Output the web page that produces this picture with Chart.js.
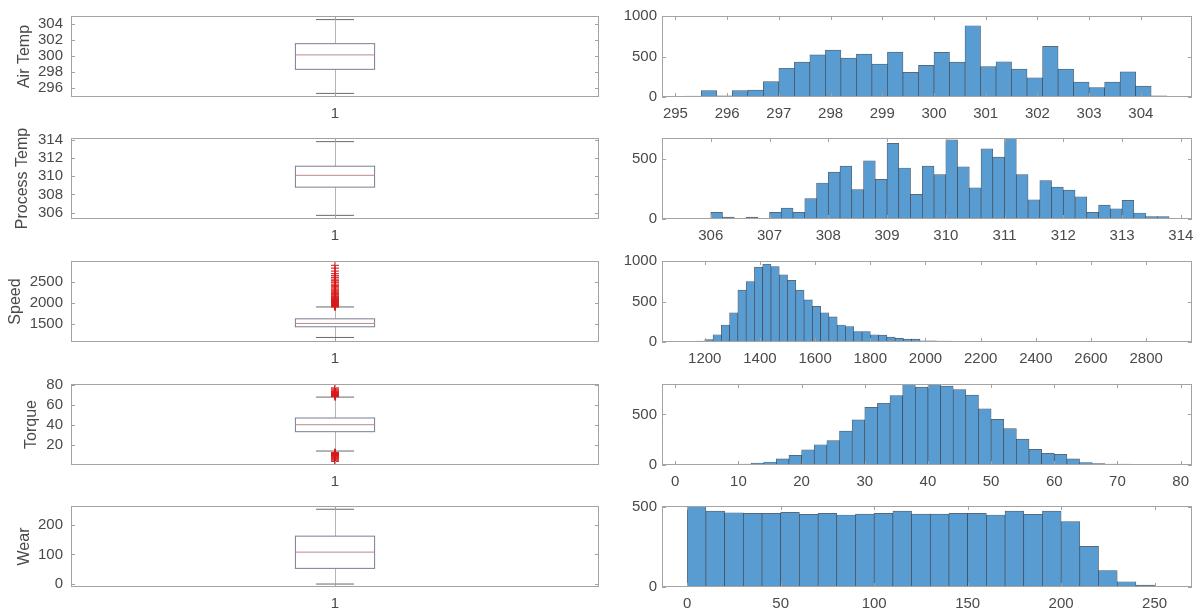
<!DOCTYPE html>
<html>
<head>
<meta charset="utf-8">
<script src="https://cdn.jsdelivr.net/npm/chart.js@4.4.0/dist/chart.umd.min.js"></script>
<style>
html, body { margin: 0; padding: 0; background: #fff; }
#wrap { position: relative; width: 1195px; height: 614px; overflow: hidden; }
#wrap canvas { position: absolute; }
</style>
</head>
<body>
<div id="wrap"></div>
<script>
// variable names (y titles of the box plots)
var names = ['Air Temp', 'Process Temp', 'Speed', 'Torque', 'Wear'];

// box plot stats: lower whisker, q1, median, q3, upper whisker
var airBox = [295.3, 298.3, 300.1, 301.5, 304.5];
var procBox = [305.7, 308.8, 310.1, 311.1, 313.8];
var speedBox = [1168, 1423, 1503, 1612, 1895];
var torqueBox = [14, 33.2, 40.1, 46.8, 67.5];
var wearBox = [0, 53, 108, 162, 253];

// outliers (red +)
var airOut = [];
var procOut = [];
var speedOut = [1898, 1905, 1912, 1920, 1928, 1935, 1943, 1950, 1958, 1967, 1975, 1984, 1992, 2001, 2010,
    2020, 2030, 2041, 2052, 2064, 2076, 2090, 2105, 2120, 2137, 2155, 2175, 2196, 2220, 2245, 2270,
    2295, 2320, 2350, 2380, 2410, 2440, 2480, 2520, 2560, 2600, 2640, 2690, 2750, 2820, 2886];
var torqueOut = [67.9, 68.4, 68.9, 69.3, 69.8, 70.2, 70.7, 71.1, 71.6, 72.1, 72.8, 73.5, 74.5, 75.4, 76.6,
    3.8, 4.2, 5.6, 6.8, 7.5, 8.2, 8.9, 9.3, 9.7, 10.1, 10.5, 10.9, 11.3, 11.7, 12.1, 12.5];
var wearOut = [];

// box plot y limits and ticks
var airBoxLim = [294.85, 304.95], airBoxTicks = [296, 298, 300, 302, 304];
var procBoxLim = [305.3, 314.2], procBoxTicks = [306, 308, 310, 312, 314];
var speedBoxLim = [1060, 2990], speedBoxTicks = [1500, 2000, 2500];
var torqueBoxLim = [0.16, 80.5], torqueBoxTicks = [20, 40, 60, 80];
var wearBoxLim = [-10, 264], wearBoxTicks = [0, 100, 200];

// histograms: first bin edge, bin width, counts
var airStart = 295.2, airWidth = 0.3;
var airCounts = [10, 80, 15, 80, 85, 190, 355, 430, 520, 580, 480, 530, 405, 555, 305, 390, 550, 430,
    880, 375, 435, 345, 237, 625, 345, 185, 115, 185, 310, 135, 15];
var procStart = 305.8, procWidth = 0.2;
var procCounts = [5, 55, 15, 5, 15, 3, 55, 90, 55, 170, 300, 390, 440, 245, 485, 330, 630, 425, 205, 440,
    370, 660, 435, 260, 585, 515, 675, 370, 160, 320, 265, 240, 185, 55, 115, 85, 155, 50, 20, 20];
var speedStart = 1170, speedWidth = 30;
var speedCounts = [10, 30, 90, 210, 360, 640, 745, 925, 960, 930, 830, 760, 640, 520, 440, 360, 310, 210,
    190, 130, 130, 90, 85, 60, 45, 35, 35, 15, 15, 10, 10, 5, 8, 8, 5, 5, 5, 4, 0, 3, 0, 4, 4, 2, 1, 0, 1,
    0, 1, 0, 1, 0, 0, 1, 0, 0, 1, 1];
var torqueStart = 2, torqueWidth = 2;
var torqueCounts = [1, 2, 3, 5, 8, 20, 30, 60, 95, 150, 200, 240, 335, 445, 570, 610, 685, 795, 770, 795,
    780, 745, 690, 555, 450, 360, 255, 155, 115, 105, 60, 25, 15, 10, 10, 3, 1, 1];
var wearStart = 0, wearWidth = 10;
var wearCounts = [505, 473, 463, 459, 459, 465, 453, 459, 449, 455, 459, 473, 455, 455, 459, 459, 449, 473,
    453, 473, 408, 253, 103, 33, 12, 4];

// histogram axis limits and ticks
var airHistX = [294.74, 304.99], airHistXTicks = [295, 296, 297, 298, 299, 300, 301, 302, 303, 304];
var procHistX = [305.17, 314.19], procHistXTicks = [306, 307, 308, 309, 310, 311, 312, 313, 314];
var speedHistX = [1045, 2966], speedHistXTicks = [1200, 1400, 1600, 1800, 2000, 2200, 2400, 2600, 2800];
var torqueHistX = [-2.1, 81.8], torqueHistXTicks = [0, 10, 20, 30, 40, 50, 60, 70, 80];
var wearHistX = [-13.5, 270], wearHistXTicks = [0, 50, 100, 150, 200, 250];
var airHistY = [0, 1000], airHistYTicks = [0, 500, 1000];
var procHistY = [0, 675], procHistYTicks = [0, 500];
var speedHistY = [0, 1000], speedHistYTicks = [0, 500, 1000];
var torqueHistY = [0, 800], torqueHistYTicks = [0, 500];
var wearHistY = [0, 505], wearHistYTicks = [0, 500];

Chart.defaults.font.family = '"Liberation Sans", Arial, Helvetica, sans-serif';
Chart.defaults.font.size = 15;
Chart.defaults.color = '#4a4a4a';

var rowTops = [16, 138, 261, 384, 506];
var titleOffset = [15, 13, 6, 22, 15]; // how far each y title sits from the left edge
var panelH = 81;
var padTop = 12, axisH = 30;

function addCanvas(left, top, w, h) {
    var c = document.createElement('canvas');
    c.width = w; c.height = h;
    c.style.left = left + 'px'; c.style.top = top + 'px';
    c.style.width = w + 'px'; c.style.height = h + 'px';
    document.getElementById('wrap').appendChild(c);
    return c;
}

function fixTicks(list) {
    return function (s) { s.ticks = list.map(function (v) { return { value: v }; }); };
}

function plain(v) { return String(v); }

// axes box with inward tick marks, like the original
var framePlugin = {
    id: 'frame',
    afterDraw: function (chart) {
        var a = chart.chartArea, ctx = chart.ctx;
        var xs = chart.scales.x, ys = chart.scales.y;
        ctx.save();
        ctx.strokeStyle = '#a3a3a3';
        ctx.lineWidth = 1;
        ctx.strokeRect(Math.round(a.left) + 0.5, Math.round(a.top) + 0.5,
            Math.round(a.right - a.left) - 1, Math.round(a.bottom - a.top) - 1);
        ctx.beginPath();
        xs.ticks.forEach(function (t) {
            var px = Math.round(xs.getPixelForValue(t.value)) + 0.5;
            ctx.moveTo(px, a.bottom); ctx.lineTo(px, a.bottom - 4);
            ctx.moveTo(px, a.top); ctx.lineTo(px, a.top + 4);
        });
        ys.ticks.forEach(function (t) {
            var py = Math.round(ys.getPixelForValue(t.value)) + 0.5;
            ctx.moveTo(a.left, py); ctx.lineTo(a.left + 4, py);
            ctx.moveTo(a.right, py); ctx.lineTo(a.right - 4, py);
        });
        ctx.stroke();
        ctx.restore();
    }
};

function boxPlugin(stats) {
    return {
        id: 'boxplot',
        beforeDatasetsDraw: function (chart) {
            var xs = chart.scales.x, ys = chart.scales.y, ctx = chart.ctx;
            var xc = Math.round(xs.getPixelForValue(1)) + 0.5;
            var bl = xs.getPixelForValue(0.925), br = xs.getPixelForValue(1.075);
            var cl = xs.getPixelForValue(0.964), cr = xs.getPixelForValue(1.036);
            var y = stats.map(function (v) { return ys.getPixelForValue(v); });
            ctx.save();
            ctx.lineWidth = 1;
            // whiskers
            ctx.strokeStyle = '#b5b5b5';
            ctx.beginPath();
            ctx.moveTo(xc, y[0]); ctx.lineTo(xc, y[1]);
            ctx.moveTo(xc, y[3]); ctx.lineTo(xc, y[4]);
            ctx.stroke();
            // caps
            ctx.strokeStyle = '#6a6a6a';
            ctx.beginPath();
            ctx.moveTo(cl, y[0]); ctx.lineTo(cr, y[0]);
            ctx.moveTo(cl, y[4]); ctx.lineTo(cr, y[4]);
            ctx.stroke();
            // box
            ctx.fillStyle = '#fff';
            ctx.fillRect(bl, y[3], br - bl, y[1] - y[3]);
            ctx.strokeStyle = '#7c7c94';
            ctx.strokeRect(bl, y[3], br - bl, y[1] - y[3]);
            // median
            ctx.strokeStyle = '#b98a8e';
            ctx.beginPath();
            ctx.moveTo(bl, y[2]); ctx.lineTo(br, y[2]);
            ctx.stroke();
            ctx.restore();
        }
    };
}

function makeBox(row, title, stats, outliers, lim, ticks) {
    var c = addCanvas(0, rowTops[row] - padTop, 605, padTop + panelH + axisH);
    return new Chart(c.getContext('2d'), {
        type: 'scatter',
        data: {
            datasets: [{
                data: outliers.map(function (v) { return { x: 1, y: v }; }),
                pointStyle: 'cross',
                radius: 4,
                borderColor: 'rgba(215, 25, 25, 0.85)',
                backgroundColor: 'rgba(215, 25, 25, 0.85)',
                borderWidth: 1.3
            }]
        },
        options: {
            responsive: false,
            animation: false,
            devicePixelRatio: 1,
            layout: { padding: { top: padTop, right: 6, left: 0, bottom: 0 } },
            plugins: { legend: { display: false }, tooltip: { enabled: false } },
            scales: {
                x: {
                    type: 'linear', min: 0.5, max: 1.5,
                    grid: { display: false, drawTicks: false }, border: { display: false },
                    ticks: { padding: 8, autoSkip: false, callback: plain },
                    afterBuildTicks: fixTicks([1]),
                    afterFit: function (s) { s.height = axisH; s.paddingLeft = 0; s.paddingRight = 0; }
                },
                y: {
                    min: lim[0], max: lim[1],
                    grid: { display: false, drawTicks: false }, border: { display: false },
                    ticks: { padding: 8, autoSkip: false, callback: plain },
                    title: { display: true, text: title, font: { size: 16 },
                        padding: { top: titleOffset[row], bottom: 0 } },
                    afterBuildTicks: fixTicks(ticks),
                    afterFit: function (s) { s.width = 71; s.paddingTop = 0; s.paddingBottom = 0; }
                }
            }
        },
        plugins: [boxPlugin(stats), framePlugin]
    });
}

function makeHist(row, start, width, counts, xlim, xticks, ylim, yticks) {
    var c = addCanvas(600, rowTops[row] - padTop, 595, padTop + panelH + axisH);
    var pts = counts.map(function (n, i) { return { x: start + width * (i + 0.5), y: n }; });
    return new Chart(c.getContext('2d'), {
        type: 'bar',
        data: {
            datasets: [{
                data: pts,
                backgroundColor: 'rgb(88, 156, 210)',
                borderColor: 'rgba(25, 35, 50, 0.75)',
                borderWidth: 0.7,
                barPercentage: 1,
                categoryPercentage: 1
            }]
        },
        options: {
            responsive: false,
            animation: false,
            devicePixelRatio: 1,
            layout: { padding: { top: padTop, right: 3, left: 0, bottom: 0 } },
            plugins: { legend: { display: false }, tooltip: { enabled: false } },
            scales: {
                x: {
                    type: 'linear', min: xlim[0], max: xlim[1], offset: false,
                    grid: { display: false, drawTicks: false }, border: { display: false },
                    ticks: { padding: 8, autoSkip: false, maxRotation: 0, callback: plain },
                    afterBuildTicks: fixTicks(xticks),
                    afterFit: function (s) { s.height = axisH; s.paddingLeft = 0; s.paddingRight = 0; }
                },
                y: {
                    min: ylim[0], max: ylim[1],
                    grid: { display: false, drawTicks: false }, border: { display: false },
                    ticks: { padding: 5, autoSkip: false, callback: plain },
                    afterBuildTicks: fixTicks(yticks),
                    afterFit: function (s) { s.width = 62; s.paddingTop = 0; s.paddingBottom = 0; }
                }
            }
        },
        plugins: [framePlugin]
    });
}

makeBox(0, names[0], airBox, airOut, airBoxLim, airBoxTicks);
makeBox(1, names[1], procBox, procOut, procBoxLim, procBoxTicks);
makeBox(2, names[2], speedBox, speedOut, speedBoxLim, speedBoxTicks);
makeBox(3, names[3], torqueBox, torqueOut, torqueBoxLim, torqueBoxTicks);
makeBox(4, names[4], wearBox, wearOut, wearBoxLim, wearBoxTicks);

makeHist(0, airStart, airWidth, airCounts, airHistX, airHistXTicks, airHistY, airHistYTicks);
makeHist(1, procStart, procWidth, procCounts, procHistX, procHistXTicks, procHistY, procHistYTicks);
makeHist(2, speedStart, speedWidth, speedCounts, speedHistX, speedHistXTicks, speedHistY, speedHistYTicks);
makeHist(3, torqueStart, torqueWidth, torqueCounts, torqueHistX, torqueHistXTicks, torqueHistY, torqueHistYTicks);
makeHist(4, wearStart, wearWidth, wearCounts, wearHistX, wearHistXTicks, wearHistY, wearHistYTicks);
</script>
</body>
</html>
